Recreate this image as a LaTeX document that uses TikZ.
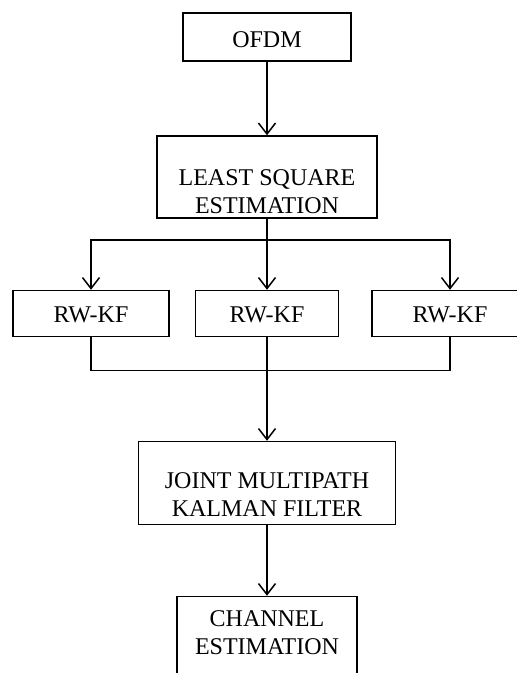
\documentclass[tikz,border=0pt]{standalone}
\usepackage{fontspec}
\setmainfont{Liberation Serif}
\usetikzlibrary{arrows.meta,positioning}

\begin{document}
\begin{tikzpicture}[x=1pt, y=-1pt, node distance=72pt,
  >={Straight Barb[length=11pt,width=17pt]},
  blk/.style={draw, line width=1.5pt, inner sep=0pt, align=center,
    font=\fontsize{24}{28}\selectfont},
  flow/.style={->, line width=1.5pt}]
\clip (0,0) rectangle (517,673);
\node[blk, minimum width=168pt, text height=34pt, text depth=14pt] (ofdm) at (267,37) {OFDM};
\node[blk, minimum width=220pt, text height=77pt, text depth=5pt, below=73.5pt of ofdm] (lse) {LEAST SQUARE\\ESTIMATION};
\node[blk, minimum width=143pt, text height=32pt, text depth=14pt, below=71pt of lse] (rw2) {RW-KF};
\node[blk, minimum width=156pt, text height=32pt, text depth=14pt, left=25pt of rw2] (rw1) {RW-KF};
\node[blk, minimum width=156pt, text height=32pt, text depth=14pt, right=32pt of rw2] (rw3) {RW-KF};
\node[blk, minimum width=257pt, text height=75pt, text depth=8pt, below=103.5pt of rw2] (jmkf) {JOINT MULTIPATH\\KALMAN FILTER};
\node[blk, minimum width=180pt, text height=58pt, text depth=22pt, below=70.5pt of jmkf] (chan) {CHANNEL\\ESTIMATION};

\coordinate[below=21pt of lse] (split);
\coordinate[below=33pt of rw2] (merge);

\draw[flow] (ofdm) -- (lse);
\draw[flow] (lse) -- (rw2);
\draw[flow] (split) -| (rw1);
\draw[flow] (split) -| (rw3);
\draw[line width=1.5pt] (rw1) |- (merge) -| (rw3);
\draw[flow] (rw2) -- (jmkf);
\draw[flow] (jmkf) -- (chan);
\end{tikzpicture}
\end{document}
